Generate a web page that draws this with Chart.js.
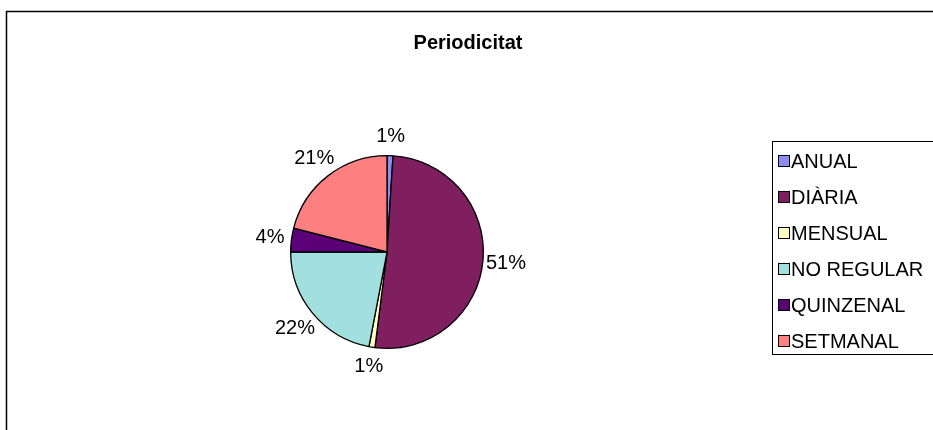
<!DOCTYPE html>
<html>
<head>
<meta charset="utf-8">
<script src="https://cdn.jsdelivr.net/npm/chart.js@4/dist/chart.umd.min.js"></script>
<style>
html,body{margin:0;padding:0;background:#fff;}
#wrap{width:933px;height:430px;position:relative;}
</style>
</head>
<body>
<div id="wrap"><canvas id="pie"></canvas></div>
<script>

// DATA

const categories = ["ANUAL","DIÀRIA","MENSUAL","NO REGULAR","QUINZENAL","SETMANAL"];
const shares = [1,51,1,22,4,21];
const sliceColors = ["#8C8CF2","#7F1F5F","#FFFFC4","#A2E0E0","#5C0078","#FF8080"];

const FONT = "'Liberation Sans', Arial, sans-serif";

// frame, title, percent labels and legend box
const extras = {
id:"extras",
beforeDraw(chart){
const c = chart.ctx;
c.save();
c.fillStyle="#fff";
c.fillRect(0,0,chart.width,chart.height);
c.strokeStyle="#000";
c.lineWidth=1.5;
c.beginPath();
c.moveTo(6.5,435);
c.lineTo(6.5,11.5);
c.lineTo(935,11.5);
c.stroke();
c.restore();
},
afterDraw(chart){
const c = chart.ctx;
const meta = chart.getDatasetMeta(0);
c.save();

c.fillStyle="#000";
c.textAlign="center";
c.textBaseline="middle";
c.font = "bold 20px " + FONT;
c.fillText("Periodicitat", 468, 43);

c.font = "20px " + FONT;
meta.data.forEach((arc,i)=>{
const mid = (arc.startAngle + arc.endAngle)/2;
const txt = shares[i] + "%";
const w = c.measureText(txt).width;
const cs = Math.cos(mid), sn = Math.sin(mid);
const r = arc.outerRadius + 17 + 0.3*(Math.abs(cs)*w/2 + Math.abs(sn)*7.5);
c.fillText(txt, arc.x + cs*r, arc.y + sn*r);
});

// legend
c.strokeStyle="#000";
c.lineWidth=1;
c.strokeRect(772.5, 141.5, 200, 213);
c.textAlign="left";
categories.forEach((name,i)=>{
const y = 161 + i*36;
c.fillStyle = sliceColors[i];
c.fillRect(778.5, y-5.5, 11, 11);
c.strokeRect(778.5, y-5.5, 11, 11);
c.fillStyle="#000";
c.fillText(name, 791, y+1);
});
c.restore();
}
};

new Chart(document.getElementById("pie"),{
type:"pie",
data:{
labels:categories,
datasets:[{
data:shares,
backgroundColor:sliceColors,
borderColor:"#000",
borderWidth:1.3
}]
},
options:{
responsive:true,
maintainAspectRatio:false,
animation:false,
layout:{padding:{top:155,left:290,right:449,bottom:81}},
plugins:{
legend:{display:false},
tooltip:{enabled:false},
title:{display:false}
}
},
plugins:[extras]
});

</script>
</body>
</html>
